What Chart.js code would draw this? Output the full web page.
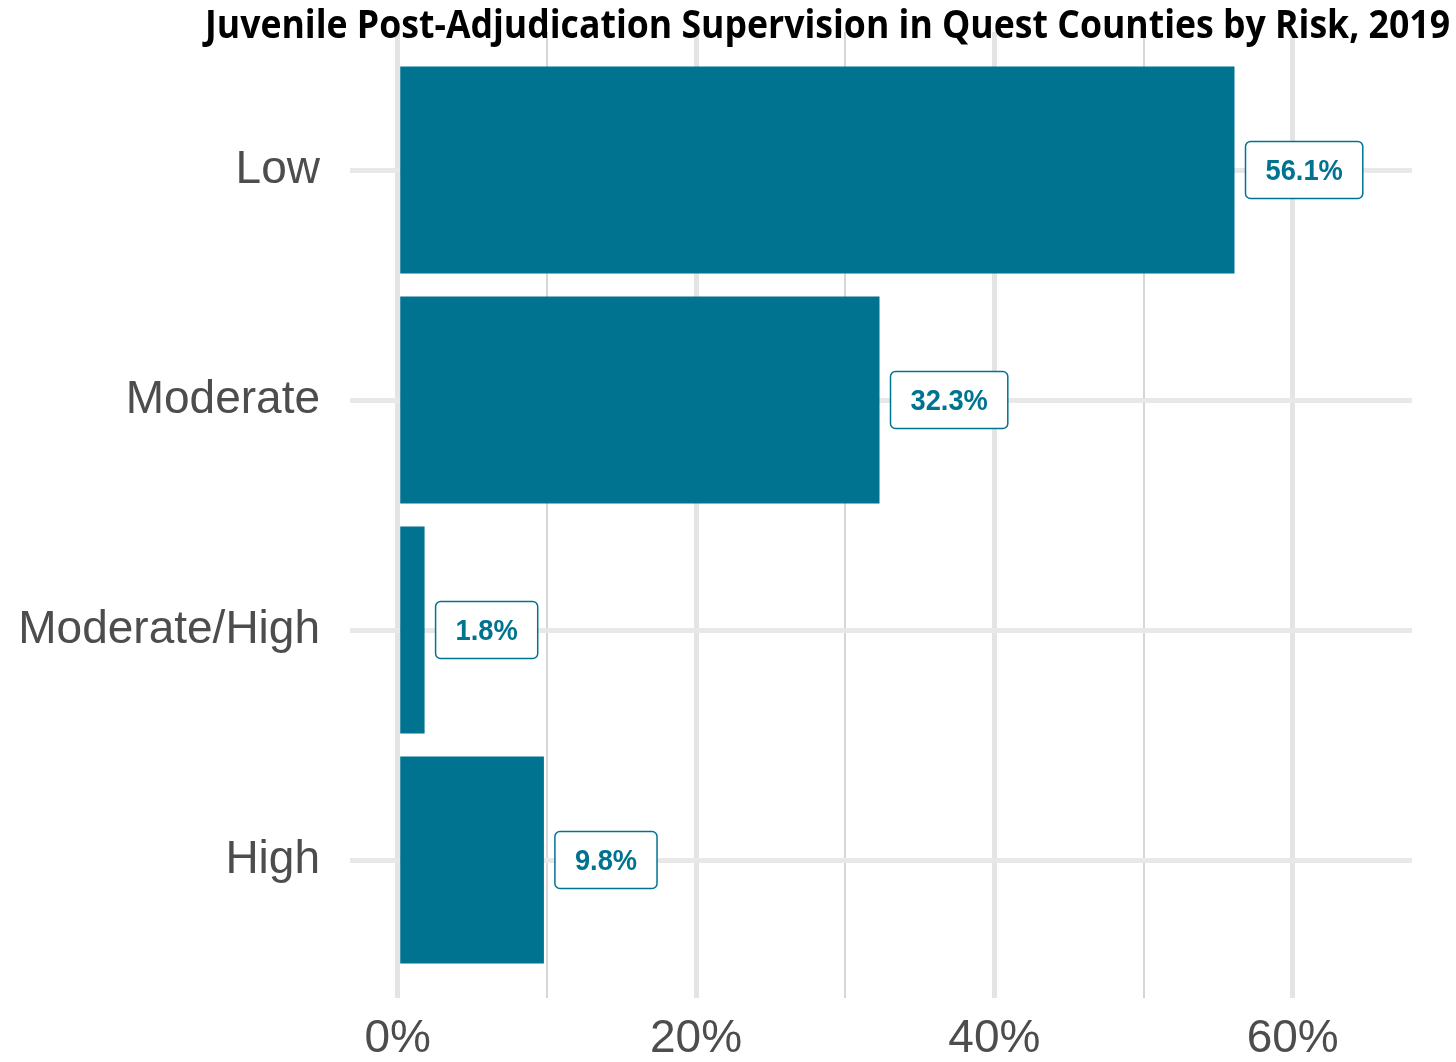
<!DOCTYPE html>
<html>
<head>
<meta charset="utf-8">
<script src="https://cdn.jsdelivr.net/npm/chart.js@4.4.1/dist/chart.umd.min.js"></script>
<style>
  body { margin: 0; background: #fff; }
</style>
</head>
<body>
<canvas id="riskChart" width="1456" height="1062"></canvas>
<script>
// risk categories, top to bottom, and share of youth on supervision (%)
const riskLevels = ['Low', 'Moderate', 'Moderate/High', 'High'];
const riskShares = [56.1, 32.3, 1.8, 9.8];
const xTickValues = [0, 10, 20, 30, 40, 50, 60];
const chartTitle = 'Juvenile Post-Adjudication Supervision in Quest Counties by Risk, 2019';

const teal = '#007391';
const tickFont = { family: '"Liberation Sans", Arial, sans-serif', size: 46 };

// boxed value labels to the right of each bar
const valueBoxes = {
  id: 'valueBoxes',
  afterDatasetsDraw(chart) {
    const ctx = chart.ctx;
    const bars = chart.getDatasetMeta(0).data;
    const squeeze = 0.94;
    ctx.save();
    ctx.font = 'bold 29px "Liberation Sans", Arial, sans-serif';
    ctx.textAlign = 'center';
    ctx.textBaseline = 'middle';
    bars.forEach((bar, i) => {
      const text = riskShares[i].toFixed(1) + '%';
      const w = ctx.measureText(text).width * squeeze + 40;
      const h = 57;
      const left = bar.x + 11;
      const top = bar.y - h / 2;
      ctx.beginPath();
      ctx.roundRect(left, top, w, h, 5);
      ctx.fillStyle = '#fff';
      ctx.fill();
      ctx.lineWidth = 1.5;
      ctx.strokeStyle = teal;
      ctx.stroke();
      ctx.fillStyle = teal;
      ctx.save();
      ctx.translate(left + w / 2, bar.y + 1.5);
      ctx.scale(squeeze, 1);
      ctx.fillText(text, 0, 0);
      ctx.restore();
    });
    ctx.restore();
  }
};

// title squeezed into the width the condensed face would take
const condensedTitle = {
  id: 'condensedTitle',
  afterDraw(chart) {
    const ctx = chart.ctx;
    ctx.save();
    ctx.font = 'bold 39px "Open Sans", sans-serif';
    ctx.fillStyle = '#000';
    ctx.textBaseline = 'alphabetic';
    const w = ctx.measureText(chartTitle).width;
    ctx.translate(205, 38);
    ctx.scale(1245 / w, 1);
    ctx.fillText(chartTitle, 0, 0);
    ctx.restore();
  }
};

new Chart(document.getElementById('riskChart').getContext('2d'), {
  type: 'bar',
  data: {
    datasets: [{
      data: riskShares.map((v, i) => ({ x: v, y: i })),
      backgroundColor: teal,
      borderWidth: 0,
      barPercentage: 0.9,
      categoryPercentage: 1
    }]
  },
  options: {
    indexAxis: 'y',
    responsive: false,
    animation: false,
    layout: { padding: { top: 32, right: 44, left: 0, bottom: 0 } },
    plugins: {
      legend: { display: false },
      tooltip: { enabled: false }
    },
    scales: {
      x: {
        type: 'linear',
        min: -3.2,
        max: 68,
        afterBuildTicks: scale => { scale.ticks = xTickValues.map(v => ({ value: v })); },
        afterFit: scale => { scale.height = 64; },
        border: { display: false },
        grid: {
          drawTicks: false,
          color: ctx => ctx.tick && ctx.tick.value % 20 === 0 ? '#e4e4e4' : '#d6d6d6',
          lineWidth: ctx => ctx.tick && ctx.tick.value % 20 === 0 ? 5 : 2
        },
        ticks: {
          padding: 14,
          color: '#4d4d4d',
          font: tickFont,
          autoSkip: false,
          maxRotation: 0,
          callback: v => v % 20 === 0 ? v + '%' : ''
        }
      },
      y: {
        type: 'linear',
        reverse: true,
        offset: false,
        min: -0.6,
        max: 3.6,
        afterBuildTicks: scale => { scale.ticks = riskLevels.map((_, i) => ({ value: i })); },
        afterFit: scale => {
          scale.width = 350;
          scale.paddingTop = 0;
          scale.paddingBottom = 0;
        },
        border: { display: false },
        grid: { offset: false, drawTicks: false, color: '#e8e8e8', lineWidth: 5 },
        ticks: {
          padding: 30,
          color: '#4d4d4d',
          font: tickFont,
          autoSkip: false,
          callback: v => riskLevels[v]
        }
      }
    }
  },
  plugins: [valueBoxes, condensedTitle]
});
</script>
</body>
</html>
